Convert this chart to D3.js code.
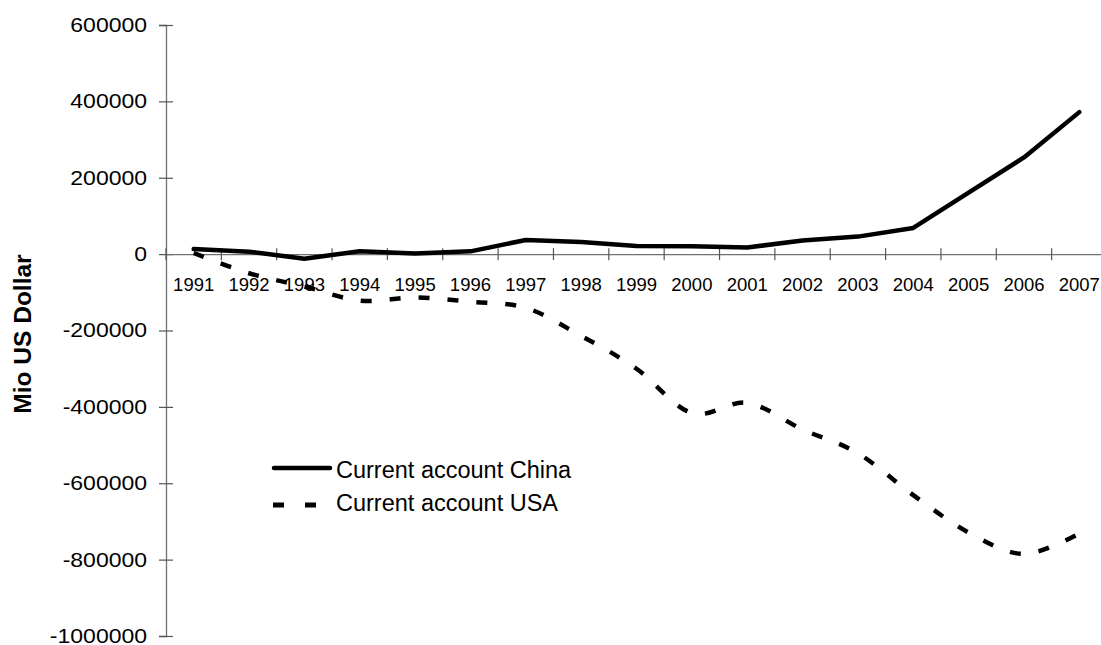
<!DOCTYPE html>
<html>
<head>
<meta charset="utf-8">
<script src="https://cdn.jsdelivr.net/npm/d3@7"></script>
<style>
  html, body { margin: 0; padding: 0; background: #fff; }
  svg { display: block; font-family: Arial, "Liberation Sans", sans-serif; }
</style>
</head>
<body>
<svg id="chart" width="1101" height="645"></svg>
<script>
const years = ["1991","1992","1993","1994","1995","1996","1997","1998","1999","2000","2001","2002","2003","2004","2005","2006","2007"];
const chinaValues = [13272, 6401, -11903, 7658, 1618, 7243, 36963, 31472, 21115, 20518, 17405, 35422, 45875, 68659, 160818, 253268, 371833];
const usaValues = [2900, -50100, -84800, -121600, -113600, -124800, -140700, -214100, -300100, -416300, -389500, -459200, -521500, -631100, -729000, -785000, -731200];
const yTicks = [600000, 400000, 200000, 0, -200000, -400000, -600000, -800000, -1000000];
const seriesNames = ["Current account China", "Current account USA"];
const yTitle = "Mio US Dollar";

const svg = d3.select("#chart");
const axisColor = "#707070";

const x = d3.scaleBand().domain(years).range([166, 1107]).padding(0);
const y = d3.scaleLinear().domain([-1000000, 600000]).range([636, 25]);
const cx = d => x(d) + x.bandwidth() / 2;

// Y axis
const yAxis = svg.append("g").attr("transform", "translate(166,0)")
  .call(d3.axisLeft(y).tickValues(yTicks).tickFormat(d => String(d)).tickSize(7).tickPadding(0));
yAxis.select(".domain").attr("stroke", axisColor).attr("stroke-width", 1.3);
yAxis.selectAll(".tick line").attr("x1", 7).attr("x2", -7).attr("stroke", "#555").attr("stroke-width", 1.2);
yAxis.selectAll(".tick text")
  .attr("x", -16.5)
  .attr("transform", "scale(1.15,1)")
  .attr("font-size", 20)
  .attr("font-family", "Arial, 'Liberation Sans', sans-serif")
  .attr("fill", "#000");

// X axis
const zeroY = y(0);
const xAxis = svg.append("g").attr("transform", `translate(0,${zeroY})`)
  .call(d3.axisBottom(x).tickSize(0).tickPadding(24));
xAxis.select(".domain").attr("stroke", axisColor).attr("stroke-width", 1.3);
xAxis.selectAll(".tick text")
  .attr("font-size", 18.5)
  .attr("font-family", "Arial, 'Liberation Sans', sans-serif")
  .attr("fill", "#000");
xAxis.selectAll(".boundary").data(years).enter().append("line")
  .attr("x1", d => x(d)).attr("x2", d => x(d))
  .attr("y1", -6).attr("y2", 6)
  .attr("stroke", "#555").attr("stroke-width", 1.2);

// Y title
svg.append("text")
  .attr("transform", "translate(31,334) rotate(-90)")
  .attr("text-anchor", "middle")
  .attr("font-size", 24.5)
  .attr("font-weight", "bold")
  .attr("fill", "#000")
  .text(yTitle);

// Lines
const chinaLine = d3.line().x((d, i) => cx(years[i])).y(d => y(d)).curve(d3.curveLinear);
const usaLine = d3.line().x((d, i) => cx(years[i])).y(d => y(d)).curve(d3.curveCatmullRom.alpha(0));

svg.append("path").datum(usaValues)
  .attr("d", usaLine)
  .attr("fill", "none").attr("stroke", "#000")
  .attr("stroke-width", 4.5)
  .attr("stroke-dasharray", "11,18");

svg.append("path").datum(chinaValues)
  .attr("d", chinaLine)
  .attr("fill", "none").attr("stroke", "#000")
  .attr("stroke-width", 4.5)
  .attr("stroke-linejoin", "round")
  .attr("stroke-linecap", "round");

// Legend
const legend = svg.append("g");
legend.append("line")
  .attr("x1", 274).attr("x2", 330).attr("y1", 468).attr("y2", 468)
  .attr("stroke", "#000").attr("stroke-width", 4.5).attr("stroke-linecap", "round");
legend.append("line")
  .attr("x1", 273).attr("x2", 330).attr("y1", 505).attr("y2", 505)
  .attr("stroke", "#000").attr("stroke-width", 5).attr("stroke-dasharray", "11,21");
legend.selectAll("text.leg").data(seriesNames).enter().append("text")
  .attr("x", 336)
  .attr("y", (d, i) => 478 + i * 33)
  .attr("font-size", 23.5)
  .attr("fill", "#000")
  .text(d => d);
</script>
</body>
</html>
